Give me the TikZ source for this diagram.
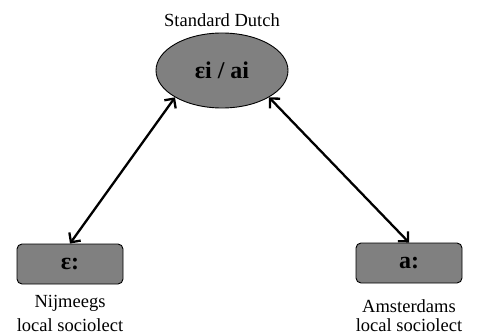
\documentclass[tikz,border=0pt]{standalone}
\usepackage{fontspec}
\setmainfont{Liberation Serif}
\usetikzlibrary{shapes.geometric,arrows.meta}
\begin{document}
\begin{tikzpicture}[x=1pt,y=-1pt,
  lbl/.style={font=\fontsize{18.5}{25}\selectfont, align=center, inner sep=0pt},
  vowel/.style={font=\fontsize{24}{26}\selectfont\bfseries},
  sbox/.style={draw=black, fill=black!50, rounded corners=5pt, minimum width=106pt, minimum height=40pt, line width=0.9pt, inner sep=0pt},
  tip/.style={},
  link/.style={line width=2.3pt, {Straight Barb[length=7pt,width=14pt,line width=2.3pt]}-{Straight Barb[length=7pt,width=14pt,line width=2.3pt]}}]
\useasboundingbox (0,0) rectangle (487,334);
\node[lbl, anchor=base] (sd) at (222,27) {Standard Dutch};
\node[draw=black, fill=black!50, ellipse, minimum width=132pt, minimum height=75pt, inner sep=0pt, line width=0.9pt, vowel] (E) at (222,70.5) {ɛi / ai};
\node[sbox, vowel] (L) at (70,264) {ɛ:};
\node[sbox, vowel] (R) at (409,263) {a:};
\node[lbl, anchor=base] (ln) at (70,307) {Nijmeegs};
\node[lbl, anchor=base] (ll) at (70,331) {local sociolect};
\node[lbl, anchor=base] (rn) at (409,312) {Amsterdams};
\node[lbl, anchor=base] (rl) at (409,331) {local sociolect};
\draw[link] (L.north) -- (E.south west);
\draw[link] (R.north) -- (E.south east);
\end{tikzpicture}
\end{document}
